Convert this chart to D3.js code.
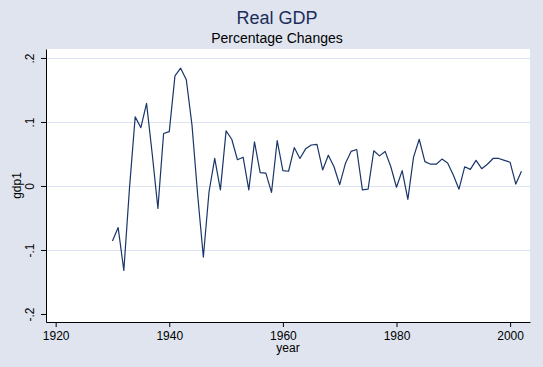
<!DOCTYPE html>
<html>
<head>
<meta charset="utf-8">
<script src="https://cdn.jsdelivr.net/npm/d3@7"></script>
<style>
  body { margin: 0; background: #dfe4ef; }
  svg { display: block; font-family: "Liberation Sans", Arial, sans-serif; }
</style>
</head>
<body>
<script>
const years = d3.range(1930, 2003);
const gdp1 = [
  -0.086, -0.065, -0.132, -0.003, 0.108, 0.091, 0.129, 0.050, -0.035, 0.082,
  0.085, 0.172, 0.184, 0.166, 0.095, -0.014, -0.111, -0.009, 0.043, -0.006,
  0.086, 0.073, 0.041, 0.045, -0.006, 0.069, 0.021, 0.020, -0.010, 0.071,
  0.024, 0.023, 0.060, 0.043, 0.058, 0.064, 0.065, 0.025, 0.048, 0.030,
  0.002, 0.035, 0.054, 0.057, -0.006, -0.005, 0.055, 0.047, 0.054, 0.030,
  -0.002, 0.024, -0.021, 0.045, 0.073, 0.038, 0.034, 0.034, 0.042, 0.036,
  0.017, -0.005, 0.030, 0.026, 0.040, 0.027, 0.034, 0.043, 0.043, 0.040,
  0.037, 0.003, 0.023
];
const xTicks = [1920, 1940, 1960, 1980, 2000];
const yTicks = [-0.2, -0.1, 0, 0.1, 0.2];
const yTickLabels = ["-.2", "-.1", "0", ".1", ".2"];
const gridTicks = [-0.1, 0, 0.1, 0.2];

const width = 543, height = 367;
const margin = {top: 49, right: 13, bottom: 45, left: 46};

const svg = d3.select("body").append("svg")
    .attr("width", width)
    .attr("height", height);

svg.append("rect")
    .attr("width", width).attr("height", height)
    .attr("fill", "#dfe4ef");

svg.append("rect")
    .attr("x", margin.left).attr("y", margin.top)
    .attr("width", width - margin.left - margin.right)
    .attr("height", height - margin.top - margin.bottom)
    .attr("fill", "#ffffff");

const x = d3.scaleLinear()
    .domain([1918.3, 2003.5])
    .range([margin.left, width - margin.right]);

const y = d3.scaleLinear()
    .domain([-0.2125, 0.214])
    .range([height - margin.bottom, margin.top]);

// gridlines
svg.append("g")
  .selectAll("line")
  .data(gridTicks)
  .join("line")
    .attr("x1", margin.left).attr("x2", width - margin.right)
    .attr("y1", d => Math.round(y(d)) + 0.5).attr("y2", d => Math.round(y(d)) + 0.5)
    .attr("stroke", "#dde3f0")
    .attr("stroke-width", 1);

// x axis
const xAxis = svg.append("g")
    .attr("transform", `translate(0,${height - margin.bottom})`)
    .call(d3.axisBottom(x).tickValues(xTicks).tickFormat(d3.format("d")).tickSize(5).tickSizeOuter(0));
xAxis.select(".domain").attr("stroke", "#000");
xAxis.selectAll(".tick line").attr("stroke", "#000");
xAxis.selectAll(".tick text")
    .attr("fill", "#000")
    .attr("font-size", 12)
    .attr("dy", "0.72em")
    .attr("y", 9);

// y axis
const yAxis = svg.append("g")
    .attr("transform", `translate(${margin.left},0)`)
    .call(d3.axisLeft(y).tickValues(yTicks).tickFormat((d, i) => yTickLabels[i]).tickSize(5).tickSizeOuter(0));
yAxis.select(".domain").attr("stroke", "#000");
yAxis.selectAll(".tick line").attr("stroke", "#000");
yAxis.selectAll(".tick text")
    .attr("fill", "#000")
    .attr("font-size", 12)
    .attr("x", null).attr("dy", null)
    .attr("text-anchor", "middle")
    .attr("transform", "translate(-12,0) rotate(-90)");

// line
const line = d3.line()
    .x((d, i) => x(years[i]))
    .y(d => y(d));

svg.append("path")
    .datum(gdp1)
    .attr("fill", "none")
    .attr("stroke", "#1a3668")
    .attr("stroke-width", 1.2)
    .attr("stroke-linejoin", "round")
    .attr("d", line);

// titles
svg.append("text")
    .attr("x", 277).attr("y", 24)
    .attr("text-anchor", "middle")
    .attr("font-size", 18)
    .attr("fill", "#1c2d5a")
    .text("Real GDP");

svg.append("text")
    .attr("x", 277).attr("y", 43)
    .attr("text-anchor", "middle")
    .attr("font-size", 14)
    .attr("fill", "#000")
    .text("Percentage Changes");

svg.append("text")
    .attr("x", (margin.left + width - margin.right) / 2).attr("y", 352)
    .attr("text-anchor", "middle")
    .attr("font-size", 12)
    .attr("fill", "#000")
    .text("year");

svg.append("text")
    .attr("transform", `translate(21,${(margin.top + height - margin.bottom) / 2}) rotate(-90)`)
    .attr("text-anchor", "middle")
    .attr("font-size", 12)
    .attr("fill", "#000")
    .text("gdp1");
</script>
</body>
</html>
